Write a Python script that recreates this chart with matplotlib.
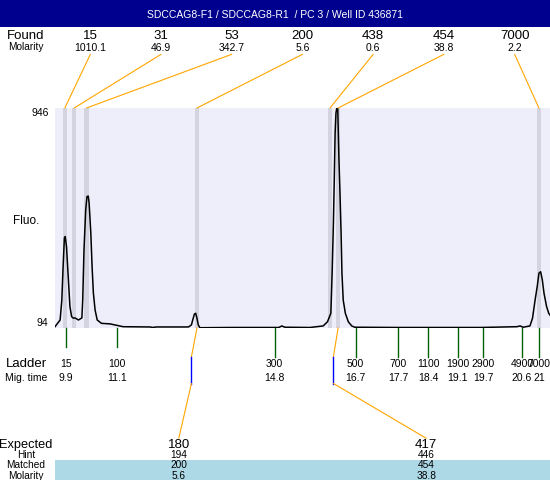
import matplotlib
matplotlib.use("Agg")
import matplotlib.pyplot as plt
import matplotlib.transforms as mtransforms
from matplotlib.patches import ConnectionPatch, Rectangle
from matplotlib.lines import Line2D

plt.rcParams['font.family'] = ['Liberation Sans', 'DejaVu Sans']

# ---------------- data ----------------
title = "SDCCAG8-F1 / SDCCAG8-R1  / PC 3 / Well ID 436871"

trace_time = [9.65, 9.77, 9.81, 9.84, 9.87, 9.89, 9.92, 9.96, 10.00, 10.04,
              10.08, 10.12, 10.20, 10.28, 10.30, 10.33, 10.37, 10.40, 10.43, 10.45,
              10.49, 10.52, 10.55, 10.59, 10.64, 10.74, 10.94, 11.25, 11.88, 11.95,
              12.02, 12.78, 12.85, 12.88, 12.92, 12.95, 12.98, 13.01, 13.05, 13.75,
              14.90, 14.97, 15.04, 15.63, 15.94, 16.04, 16.12, 16.15, 16.18, 16.20,
              16.22, 16.24, 16.26, 16.28, 16.31, 16.33, 16.36, 16.38, 16.41, 16.46,
              16.53, 16.61, 16.68, 17.74, 19.62, 20.48, 20.56, 20.63, 20.79, 20.85,
              20.91, 20.96, 21.00, 21.04, 21.08, 21.12, 21.18, 21.23, 21.26]
trace_fluo = [99, 125, 202, 331, 443, 448, 409, 293, 177, 138,
              132, 133, 125, 133, 202, 396, 551, 603, 605, 578,
              462, 331, 230, 164, 125, 112, 110, 99, 98, 96,
              98, 98, 106, 125, 148, 151, 132, 106, 95, 96,
              96, 102, 97, 96, 102, 118, 151, 307, 501, 667,
              849, 927, 946, 952, 745, 641, 462, 307, 202, 151,
              118, 102, 97, 96, 96, 99, 102, 97, 102, 132,
              202, 254, 306, 312, 280, 228, 177, 151, 144]

fluo_range = [94, 946]
time_range = [9.65, 21.26]

found_size = ["15", "31", "53", "200", "438", "454", "7000"]
found_molarity = ["1010.1", "46.9", "342.7", "5.6", "0.6", "38.8", "2.2"]
found_time = [9.88, 10.10, 10.39, 12.98, 16.10, 16.29, 21.00]

ladder_size = ["15", "100", "300", "500", "700", "1100", "1900", "2900", "4900", "7000"]
ladder_time = [9.9, 11.1, 14.8, 16.7, 17.7, 18.4, 19.1, 19.7, 20.6, 21.0]
ladder_time_label = ["9.9", "11.1", "14.8", "16.7", "17.7", "18.4", "19.1", "19.7", "20.6", "21"]

expected_size = ["180", "417"]
expected_time = [12.85, 16.18]
hint_size = ["194", "446"]
matched_size = ["200", "454"]
matched_molarity = ["5.6", "38.8"]
matched_found_index = [3, 5]

# ---------------- style / layout ----------------
W, H = 550, 480
PLOT_L, PLOT_R, PLOT_T, PLOT_B = 55, 550, 108, 328
BAND_W = 0.10
ladder_tick_end = [347, 347, 357, 357, 357, 357, 357, 357, 357, 357]

fig = plt.figure(figsize=(W / 100, H / 100), dpi=100)
page = mtransforms.Affine2D().scale(1 / W, -1 / H).translate(0, 1) + fig.transFigure

ax = fig.add_axes([PLOT_L / W, (H - PLOT_B) / H, (PLOT_R - PLOT_L) / W, (PLOT_B - PLOT_T) / H])
ax.set_facecolor('#EEEEFB')
ax.set_xlim(*time_range)
ax.set_ylim(*fluo_range)
ax.set_autoscale_on(False)
for s in ax.spines.values():
    s.set_visible(False)
ax.set_xticks([])
ax.set_yticks([])

bx = mtransforms.blended_transform_factory(ax.transData, page)     # x: time, y: page px
fx = mtransforms.blended_transform_factory(ax.transAxes, page)     # x: axes frac, y: page px

# found bands
for t in found_time:
    ax.axvspan(t - BAND_W / 2, t + BAND_W / 2, color='#D4D4E0', lw=0, zorder=1)

# trace
ax.plot(trace_time, trace_fluo, color='black', lw=1.1, zorder=3)

# header
fig.add_artist(Rectangle((0, 0), W, 27, transform=page, facecolor='#00008E', edgecolor='none'))
fig.text(275, 18.5, title, transform=page, color='white', fontsize=7.5,
         ha='center', va='baseline')

# left labels
def left_label(y, s, size):
    fig.text(26, y, s, transform=page, ha='center', va='baseline', fontsize=size)

left_label(39, "Found", 9.5)
left_label(50.5, "Molarity", 7.3)
left_label(224, "Fluo.", 8.5)
left_label(367, "Ladder", 9.5)
left_label(380.7, "Mig. time", 7.5)
left_label(448.3, "Expected", 9.2)
left_label(457.7, "Hint", 7.3)
left_label(468.3, "Matched", 7.3)
left_label(479, "Molarity", 7.3)

# y range labels
yx = mtransforms.blended_transform_factory(page, ax.transData)
ax.text(48.5, fluo_range[1], str(fluo_range[1]), transform=yx, ha='right', va='top', fontsize=7.5)
ax.text(48.5, fluo_range[0], str(fluo_range[0]), transform=yx, ha='right', va='bottom', fontsize=7.5)

# found labels + leader lines
n = len(found_size)
for i, (sz, mol, t) in enumerate(zip(found_size, found_molarity, found_time)):
    fxp = (i + 0.5) / n
    ax.text(fxp, 39, sz, transform=fx, ha='center', va='baseline', fontsize=9.5)
    ax.text(fxp, 51, mol, transform=fx, ha='center', va='baseline', fontsize=7.5)
    con = ConnectionPatch(xyA=(fxp, 54.3), coordsA=fx, xyB=(t, fluo_range[1]),
                          coordsB=ax.transData, color='orange', lw=0.8)
    fig.add_artist(con)

# ladder
for t, sz, lab, te in zip(ladder_time, ladder_size, ladder_time_label, ladder_tick_end):
    ax.add_line(Line2D([t, t], [PLOT_B, te], transform=bx, color='#006400', lw=1.0, clip_on=False))
    ax.text(t, 366.7, sz, transform=bx, ha='center', va='baseline', fontsize=7.5)
    ax.text(t, 380.7, lab, transform=bx, ha='center', va='baseline', fontsize=7.5)

# matched band
fig.add_artist(Rectangle((0, 459.7), 1, H - 459.7, transform=fx, facecolor='#ADD8E6',
                         edgecolor='none', zorder=0))

# expected
m = len(expected_size)
for j in range(m):
    fxp = (j + 0.5) / m
    et = expected_time[j]
    ft = found_time[matched_found_index[j]]
    ax.add_line(Line2D([ft, et], [PLOT_B, 356.7], transform=bx, color='orange', lw=0.8, clip_on=False))
    ax.add_line(Line2D([et, et], [356.7, 383.5], transform=bx, color='blue', lw=1.0, clip_on=False))
    fig.add_artist(ConnectionPatch(xyA=(et, 383.5), coordsA=bx, xyB=(fxp, 438.3),
                                   coordsB=fx, color='orange', lw=0.8))
    ax.text(fxp, 448.3, expected_size[j], transform=fx, ha='center', va='baseline', fontsize=9.5)
    ax.text(fxp, 457.7, hint_size[j], transform=fx, ha='center', va='baseline', fontsize=7.3)
    ax.text(fxp, 468.3, matched_size[j], transform=fx, ha='center', va='baseline', fontsize=7.3)
    ax.text(fxp, 479, matched_molarity[j], transform=fx, ha='center', va='baseline', fontsize=7.3)

fig.savefig("out.png", dpi=100)
